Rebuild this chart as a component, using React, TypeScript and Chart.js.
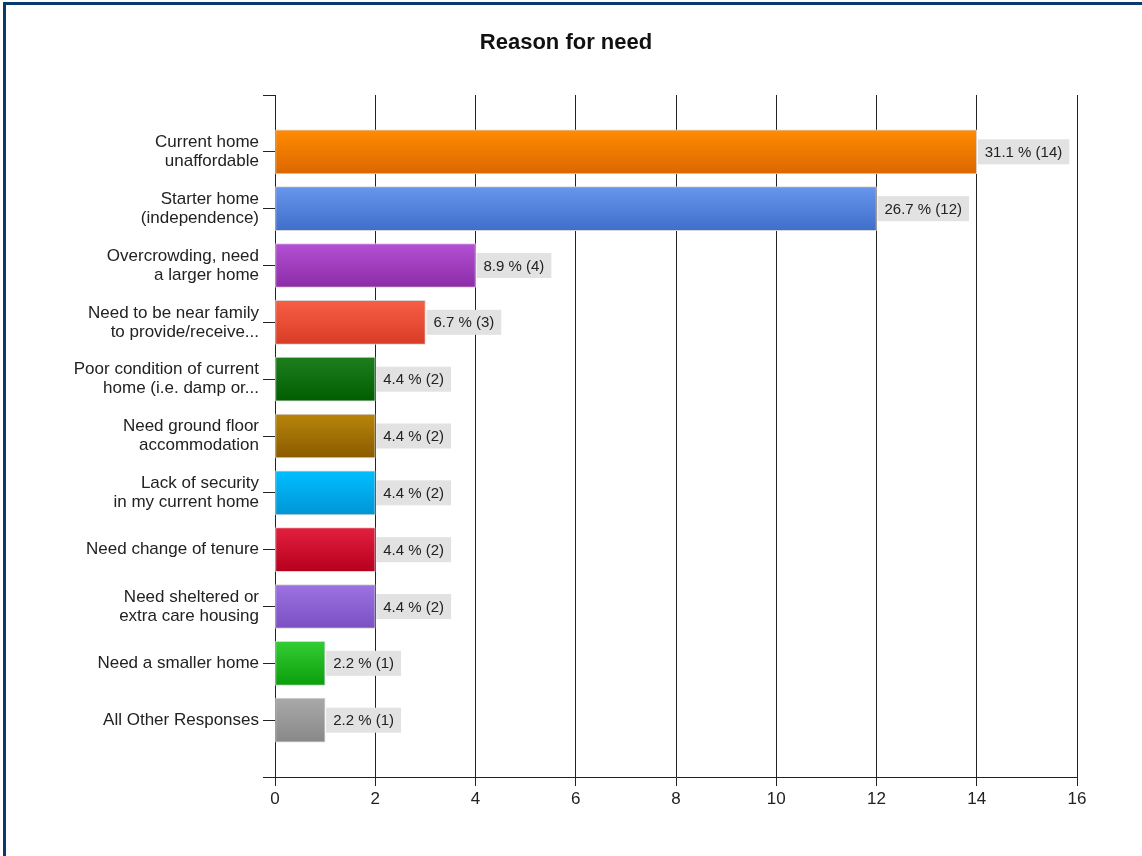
import React, { useEffect, useRef } from "react";
import { Chart, registerables } from "chart.js";

Chart.register(...registerables);

const categories: (string | string[])[] = [
  ["Current home", "unaffordable"],
  ["Starter home", "(independence)"],
  ["Overcrowding, need", "a larger home"],
  ["Need to be near family", "to provide/receive..."],
  ["Poor condition of current", "home (i.e. damp or..."],
  ["Need ground floor", "accommodation"],
  ["Lack of security", "in my current home"],
  "Need change of tenure",
  ["Need sheltered or", "extra care housing"],
  "Need a smaller home",
  "All Other Responses",
];
const counts: number[] = [14, 12, 4, 3, 2, 2, 2, 2, 2, 1, 1];
const percents: string[] = ["31.1", "26.7", "8.9", "6.7", "4.4", "4.4", "4.4", "4.4", "4.4", "2.2", "2.2"];
const topColors: string[] = ["#ff8c00", "#6896ec", "#b450d4", "#f75e45", "#1e7e1e", "#b8860b", "#00bfff", "#e3203e", "#9d72e2", "#34cd34", "#a9a9a9"];
const bottomColors: string[] = ["#dc6600", "#3f6ecb", "#8c2ca6", "#d93c26", "#005e00", "#8a5a00", "#0095d6", "#b5001e", "#7a50c2", "#0c9e0c", "#888888"];
const xTicks: number[] = [0, 2, 4, 6, 8, 10, 12, 14, 16];

const FONT = "'Liberation Sans', Arial, sans-serif";

export default function App() {
  const ref = useRef<HTMLCanvasElement | null>(null);

  useEffect(() => {
    if (!ref.current) return;
    const labels = ["", ...categories, ""];
    const data = [null, ...counts, null];

    const titlePlugin = {
      id: "titleDraw",
      afterDraw(chart: any) {
        const ctx = chart.ctx;
        ctx.save();
        ctx.font = `bold 22px ${FONT}`;
        ctx.fillStyle = "#111";
        ctx.textAlign = "center";
        ctx.textBaseline = "middle";
        ctx.fillText("Reason for need", 566, 43);
        ctx.restore();
      },
    };

    const labelPlugin = {
      id: "barLabels",
      afterDatasetsDraw(chart: any) {
        const ctx = chart.ctx;
        const meta = chart.getDatasetMeta(0);
        ctx.save();
        ctx.font = `15px ${FONT}`;
        ctx.textBaseline = "middle";
        ctx.textAlign = "left";
        meta.data.forEach((bar: any, i: number) => {
          const ci = i - 1;
          if (ci < 0 || ci >= counts.length) return;
          const text = `${percents[ci]} % (${counts[ci]})`;
          const w = ctx.measureText(text).width;
          const x0 = bar.x + 1;
          const h = 25;
          ctx.fillStyle = "#e2e2e2";
          ctx.fillRect(x0, bar.y - h / 2, w + 14, h);
          ctx.fillStyle = "#222";
          ctx.fillText(text, x0 + 7, bar.y + 1);
        });
        ctx.restore();
      },
    };

    const chart = new Chart(ref.current, {
      type: "bar",
      data: {
        labels,
        datasets: [
          {
            data,
            barThickness: 44,
            borderWidth: 1,
            borderColor: "#d6d6d6",
            borderSkipped: false,
            backgroundColor: (c: any) => {
              const ci = c.dataIndex - 1;
              if (ci < 0 || ci >= counts.length) return "#fff";
              const chart = c.chart;
              const ys = chart.scales && chart.scales.y;
              if (!ys) return topColors[ci];
              const y = ys.getPixelForValue(c.dataIndex);
              const g = chart.ctx.createLinearGradient(0, y - 22, 0, y + 22);
              g.addColorStop(0, topColors[ci]);
              g.addColorStop(1, bottomColors[ci]);
              return g;
            },
          },
        ],
      },
      options: {
        indexAxis: "y",
        responsive: false,
        animation: false,
        layout: { padding: { left: 0, top: 95, right: 65, bottom: 0 } },
        plugins: {
          legend: { display: false },
          tooltip: { enabled: false },
          title: { display: false },
        },
        scales: {
          x: {
            type: "linear",
            min: 0,
            max: 16,
            afterBuildTicks: (s: any) => {
              s.ticks = xTicks.map((v) => ({ value: v }));
            },
            afterFit: (s: any) => {
              s.height = 79;
            },
            grid: {
              color: "#222",
              lineWidth: 1,
              drawTicks: true,
              tickLength: 9,
              tickColor: "#222",
            },
            border: { display: true, color: "#222", width: 1 },
            ticks: {
              color: "#222",
              padding: 3,
              font: { family: FONT, size: 17 },
            },
          },
          y: {
            type: "category",
            offset: false,
            afterFit: (s: any) => {
              s.width = 275;
            },
            grid: {
              offset: false,
              drawOnChartArea: false,
              drawTicks: true,
              tickLength: 12,
              tickColor: "#222",
            },
            border: { display: true, color: "#222", width: 1 },
            ticks: {
              color: "#222",
              padding: 4,
              autoSkip: false,
              font: { family: FONT, size: 17, lineHeight: 1.12 },
            },
          },
        },
      },
      plugins: [labelPlugin, titlePlugin],
    } as any);
    return () => chart.destroy();
  }, []);

  return (
    <div style={{ position: "fixed", left: 0, top: 0, width: 1142, height: 856, background: "#fff" }}>
      <canvas ref={ref} width={1142} height={856} style={{ position: "absolute", left: 0, top: 0 }} />
      <div
        style={{
          position: "absolute",
          left: 3,
          top: 2,
          width: 1139,
          height: 854,
          borderTop: "3px solid #0b3a6c",
          borderLeft: "3px solid #0b3a6c",
          boxSizing: "border-box",
          pointerEvents: "none",
        }}
      />
    </div>
  );
}
